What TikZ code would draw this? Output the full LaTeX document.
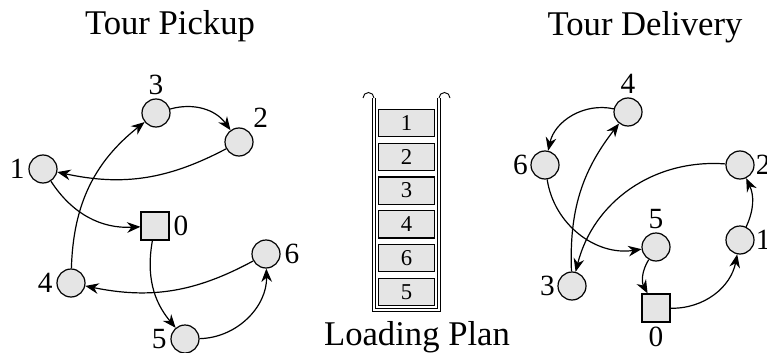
\documentclass[tikz,border=0pt]{standalone}
\usepackage{fontspec}
\setmainfont{Liberation Serif}
\usetikzlibrary{positioning,arrows.meta}

\begin{document}
\begin{tikzpicture}[x=0.75pt,y=-0.75pt,->,>={Stealth[length=10pt,width=8pt]},line width=0.9pt,
	loc/.style={circle,draw,fill=black!10,minimum size=21pt,inner sep=0pt},
	depot/.style={rectangle,draw,fill=black!10,minimum size=21pt,inner sep=0pt},
	slot/.style={rectangle,draw,fill=black!10,minimum width=42.5pt,minimum height=20.5pt,inner sep=0pt,font=\fontsize{17}{20}\selectfont},
	every label/.style={font=\fontsize{22}{26}\selectfont,inner sep=2.5pt},
	title/.style={font=\fontsize{26}{30}\selectfont,anchor=base}]
			\useasboundingbox (0,0) rectangle (767,353);

			\node[title] (tp) at (170,35) {Tour Pickup};
			\node[title] (td) at (645,36) {Tour Delivery};
			\node[title] (lp) at (417,345) {Loading Plan};

			% pickup tour
			\node[loc,label=above:3] (p3) at (156,113) {};
			\node[loc,label=north east:2] (p2) at (239,142) {};
			\node[loc,label=left:1] (p1) at (43,169) {};
			\node[depot,label=right:0] (p0) at (155,226) {};
			\node[loc,label=right:6] (p6) at (266,254) {};
			\node[loc,label=left:4] (p4) at (71,283) {};
			\node[loc,label=left:5] (p5) at (185,339) {};

			% delivery tour
			\node[loc,label=above:4] (d4) at (628,112) {};
			\node[loc,label={[label distance=-1pt]left:6}] (d6) at (545,165) {};
			\node[loc,label={[label distance=-2pt]right:2}] (d2) at (740,165) {};
			\node[loc,label=above:5] (d5) at (656,247) {};
			\node[loc,label={[label distance=-2pt]right:1}] (d1) at (740,240) {};
			\node[loc,label={[label distance=-1pt]left:3}] (d3) at (572,286) {};
			\node[depot,label=below:0] (d0) at (656,308) {};

			% loading plan
			\foreach \v [count=\i] in {1,2,3,4,6,5}
				\node[slot] (s\i) at (406.5,{123+33.8*(\i-1)}) {\v};
			\draw[-,line width=0.7pt,double,double distance=1.5pt] (374,98) -- (374,310) -- (439,310) -- (439,98);
			\draw[-,line width=0.7pt] (374,98) arc (0:-180:5.5);
			\draw[-,line width=0.7pt] (439,98) arc (180:360:5.5);

			\draw 	(p3) edge[bend left=35] (p2)
					(p2) edge[bend left=20] (p1)
					(p1) edge[bend right=30] (p0)
					(p0) edge[bend right=25] (p5)
					(p5) edge[bend right=45] (p6)
					(p6) edge[bend left=20] (p4)
					(p4) edge[bend left=25] (p3);

			\draw 	(d4) edge[bend right=45] (d6)
					(d6) edge[bend right=45] (d5)
					(d5) edge[bend right=30] (d0)
					(d0) edge[bend right=40] (d1)
					(d1) edge[bend right=25] (d2)
					(d2) edge[bend right=40] (d3)
					(d3) edge[bend left=20] (d4);
\end{tikzpicture}
\end{document}
